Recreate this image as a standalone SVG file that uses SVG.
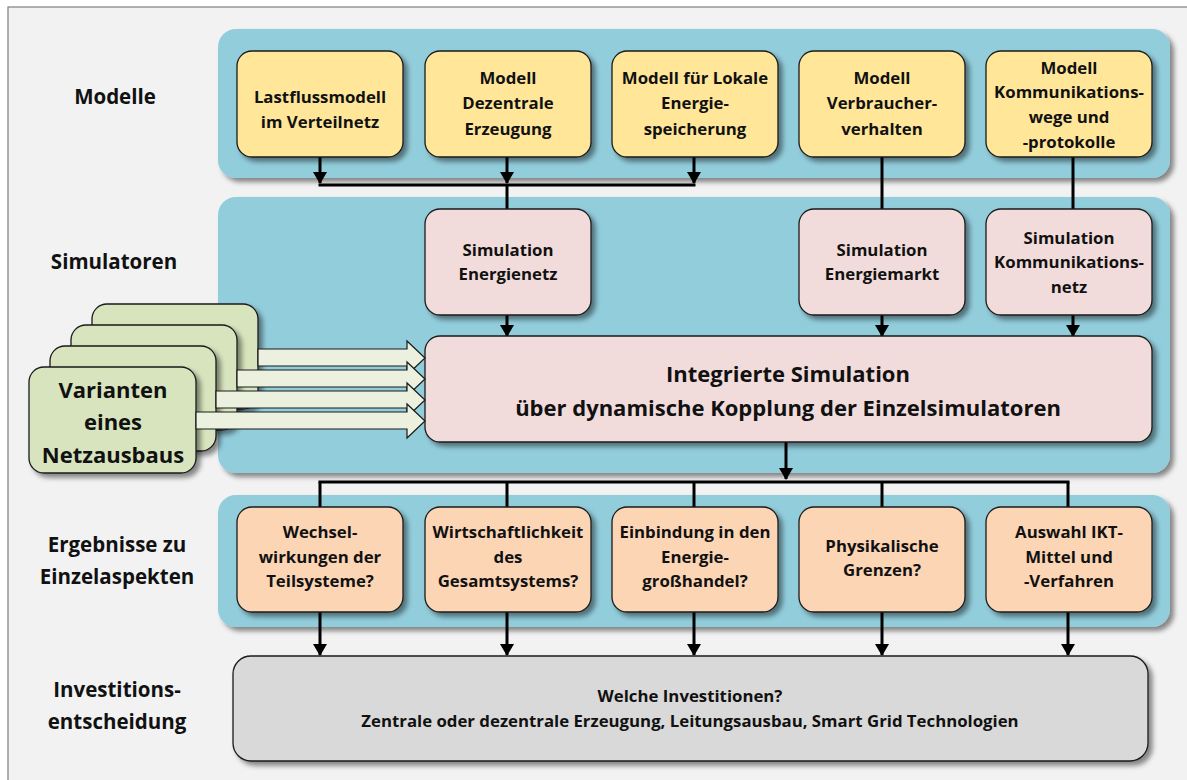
<svg xmlns="http://www.w3.org/2000/svg" width="1187" height="780" viewBox="0 0 1187 780">
<defs>
<filter id="sh" x="-10%" y="-10%" width="130%" height="130%">
<feGaussianBlur in="SourceAlpha" stdDeviation="2.5"/>
<feOffset dx="4" dy="4" result="b"/>
<feFlood flood-color="#000" flood-opacity="0.45"/>
<feComposite in2="b" operator="in"/>
<feMerge><feMergeNode/><feMergeNode in="SourceGraphic"/></feMerge>
</filter>
<marker id="ah" viewBox="0 0 12 14" refX="11" refY="7" markerWidth="12" markerHeight="14" markerUnits="userSpaceOnUse" orient="auto">
<path d="M0,0 L12,7 L0,14 z" fill="#000"/>
</marker>
</defs>
<style>
.panel{fill:#92cddc;}
.box{stroke:#1a1a1a;stroke-width:1.3;}
.m{fill:#ffe699;}
.s{fill:#f2dcdb;}
.r{fill:#fcd5b5;}
.g{fill:#d9d9d9;}
.v{fill:#d7e4bd;}
.ba{fill:#ebf1de;stroke:#1a1a1a;stroke-width:1.2;}
text{font-family:"Open Sans","Liberation Sans",sans-serif;font-weight:700;fill:#111;text-anchor:middle;}
.t{font-size:16.8px;}
.lab{font-size:20.5px;}
.big{font-size:22px;}
.var{font-size:22px;}
.con{stroke:#000;stroke-width:3;fill:none;}
</style>
<rect x="0" y="0" width="1187" height="780" fill="#ffffff"/>
<rect x="8" y="7" width="1190" height="790" fill="#f2f2f2" stroke="#7f7f7f" stroke-width="1.2"/>

<g id="labels">
<text class="lab" x="115" y="104">Modelle</text>
<text class="lab" x="114" y="269">Simulatoren</text>
<text class="lab" x="117" y="552">Ergebnisse zu</text>
<text class="lab" x="117" y="584">Einzelaspekten</text>
<text class="lab" x="117" y="697">Investitions-</text>
<text class="lab" x="117" y="729">entscheidung</text>
</g>

<g id="panels">
<rect id="panel-modelle" class="panel" x="218" y="29" width="952" height="149" rx="18" filter="url(#sh)"/>
<rect id="panel-simulatoren" class="panel" x="218" y="197" width="952" height="276" rx="18" filter="url(#sh)"/>
<rect id="panel-ergebnisse" class="panel" x="218" y="495" width="952" height="132" rx="18" filter="url(#sh)"/>
</g>

<g id="connectors">
<line class="con" x1="320" y1="157" x2="320" y2="183" marker-end="url(#ah)"/>
<line class="con" x1="507" y1="157" x2="507" y2="183" marker-end="url(#ah)"/>
<line class="con" x1="694" y1="157" x2="694" y2="183" marker-end="url(#ah)"/>
<line class="con" x1="318.5" y1="185" x2="695.5" y2="185"/>
<line class="con" x1="507" y1="185" x2="507" y2="209"/>
<line class="con" x1="882" y1="157" x2="882" y2="209"/>
<line class="con" x1="1073" y1="157" x2="1073" y2="209"/>
<line class="con" x1="507" y1="315" x2="507" y2="336" marker-end="url(#ah)"/>
<line class="con" x1="882" y1="315" x2="882" y2="336" marker-end="url(#ah)"/>
<line class="con" x1="1073" y1="315" x2="1073" y2="336" marker-end="url(#ah)"/>
<line class="con" x1="786" y1="442" x2="786" y2="479" marker-end="url(#ah)"/>
<line class="con" x1="318.5" y1="482" x2="1069.5" y2="482"/>
<line class="con" x1="320" y1="482" x2="320" y2="507"/>
<line class="con" x1="507" y1="482" x2="507" y2="507"/>
<line class="con" x1="694" y1="482" x2="694" y2="507"/>
<line class="con" x1="882" y1="482" x2="882" y2="507"/>
<line class="con" x1="1068" y1="482" x2="1068" y2="507"/>
<line class="con" x1="320" y1="612" x2="320" y2="655" marker-end="url(#ah)"/>
<line class="con" x1="507" y1="612" x2="507" y2="655" marker-end="url(#ah)"/>
<line class="con" x1="694" y1="612" x2="694" y2="655" marker-end="url(#ah)"/>
<line class="con" x1="882" y1="612" x2="882" y2="655" marker-end="url(#ah)"/>
<line class="con" x1="1068" y1="612" x2="1068" y2="655" marker-end="url(#ah)"/>
</g>

<g id="m1"><rect class="box m" x="237" y="51" width="166" height="106" rx="15" filter="url(#sh)"/>
<text class="t" x="320" y="103">Lastflussmodell</text><text class="t" x="320" y="128">im Verteilnetz</text></g>
<g id="m2"><rect class="box m" x="425" y="51" width="166" height="106" rx="15" filter="url(#sh)"/>
<text class="t" x="508" y="84">Modell</text><text class="t" x="508" y="109">Dezentrale</text><text class="t" x="508" y="135">Erzeugung</text></g>
<g id="m3"><rect class="box m" x="612" y="51" width="166" height="106" rx="15" filter="url(#sh)"/>
<text class="t" x="695" y="84">Modell für Lokale</text><text class="t" x="695" y="109">Energie-</text><text class="t" x="695" y="135">speicherung</text></g>
<g id="m4"><rect class="box m" x="799" y="51" width="166" height="106" rx="15" filter="url(#sh)"/>
<text class="t" x="882" y="84">Modell</text><text class="t" x="882" y="109">Verbraucher-</text><text class="t" x="882" y="135">verhalten</text></g>
<g id="m5"><rect class="box m" x="986" y="51" width="166" height="106" rx="15" filter="url(#sh)"/>
<text class="t" x="1069" y="74">Modell</text><text class="t" x="1069" y="98">Kommunikations-</text><text class="t" x="1069" y="123">wege und</text><text class="t" x="1069" y="148">-protokolle</text></g>

<g id="s1"><rect class="box s" x="425" y="209" width="166" height="106" rx="15" filter="url(#sh)"/>
<text class="t" x="508" y="256">Simulation</text><text class="t" x="508" y="280">Energienetz</text></g>
<g id="s2"><rect class="box s" x="799" y="209" width="166" height="106" rx="15" filter="url(#sh)"/>
<text class="t" x="882" y="256">Simulation</text><text class="t" x="882" y="280">Energiemarkt</text></g>
<g id="s3"><rect class="box s" x="986" y="209" width="166" height="106" rx="15" filter="url(#sh)"/>
<text class="t" x="1069" y="244">Simulation</text><text class="t" x="1069" y="268">Kommunikations-</text><text class="t" x="1069" y="293">netz</text></g>

<g id="integ"><rect class="box s" x="425" y="336" width="727" height="106" rx="15" filter="url(#sh)"/>
<text class="big" x="788" y="382">Integrierte Simulation</text><text class="big" x="788" y="416">über dynamische Kopplung der Einzelsimulatoren</text></g>

<g id="varianten">
<rect class="box v" x="92" y="304" width="166" height="105" rx="15" filter="url(#sh)"/>
<path class="ba" d="M258,349 L407,349 L407,341 L425,358 L407,375 L407,366 L258,366 z"/>
<rect class="box v" x="71" y="325" width="166" height="105" rx="15" filter="url(#sh)"/>
<path class="ba" d="M237,370 L407,370 L407,362 L425,379 L407,396 L407,387 L237,387 z"/>
<rect class="box v" x="50" y="346" width="166" height="105" rx="15" filter="url(#sh)"/>
<path class="ba" d="M216,391 L407,391 L407,383 L425,400 L407,417 L407,408 L216,408 z"/>
<rect class="box v" x="29" y="367" width="167" height="106" rx="15" filter="url(#sh)"/>
<path class="ba" d="M196,412 L407,412 L407,404 L425,421 L407,438 L407,429 L196,429 z"/>
<text class="var" x="113" y="398">Varianten</text><text class="var" x="113" y="430">eines</text><text class="var" x="113" y="463">Netzausbaus</text>
</g>

<g id="r1"><rect class="box r" x="237" y="507" width="166" height="105" rx="15" filter="url(#sh)"/>
<text class="t" x="320" y="538">Wechsel-</text><text class="t" x="320" y="563">wirkungen der</text><text class="t" x="320" y="587">Teilsysteme?</text></g>
<g id="r2"><rect class="box r" x="425" y="507" width="166" height="105" rx="15" filter="url(#sh)"/>
<text class="t" x="508" y="538">Wirtschaftlichkeit</text><text class="t" x="508" y="563">des</text><text class="t" x="508" y="587">Gesamtsystems?</text></g>
<g id="r3"><rect class="box r" x="612" y="507" width="166" height="105" rx="15" filter="url(#sh)"/>
<text class="t" x="695" y="538">Einbindung in den</text><text class="t" x="695" y="563">Energie-</text><text class="t" x="695" y="587">großhandel?</text></g>
<g id="r4"><rect class="box r" x="799" y="507" width="166" height="105" rx="15" filter="url(#sh)"/>
<text class="t" x="882" y="552">Physikalische</text><text class="t" x="882" y="576">Grenzen?</text></g>
<g id="r5"><rect class="box r" x="986" y="507" width="166" height="105" rx="15" filter="url(#sh)"/>
<text class="t" x="1069" y="538">Auswahl IKT-</text><text class="t" x="1069" y="563">Mittel und</text><text class="t" x="1069" y="587">-Verfahren</text></g>

<g id="invest"><rect class="box g" x="233" y="656" width="915" height="105" rx="18" filter="url(#sh)"/>
<text class="t" x="690" y="702">Welche Investitionen?</text><text class="t" x="690" y="727">Zentrale oder dezentrale Erzeugung, Leitungsausbau, Smart Grid Technologien</text></g>
</svg>
